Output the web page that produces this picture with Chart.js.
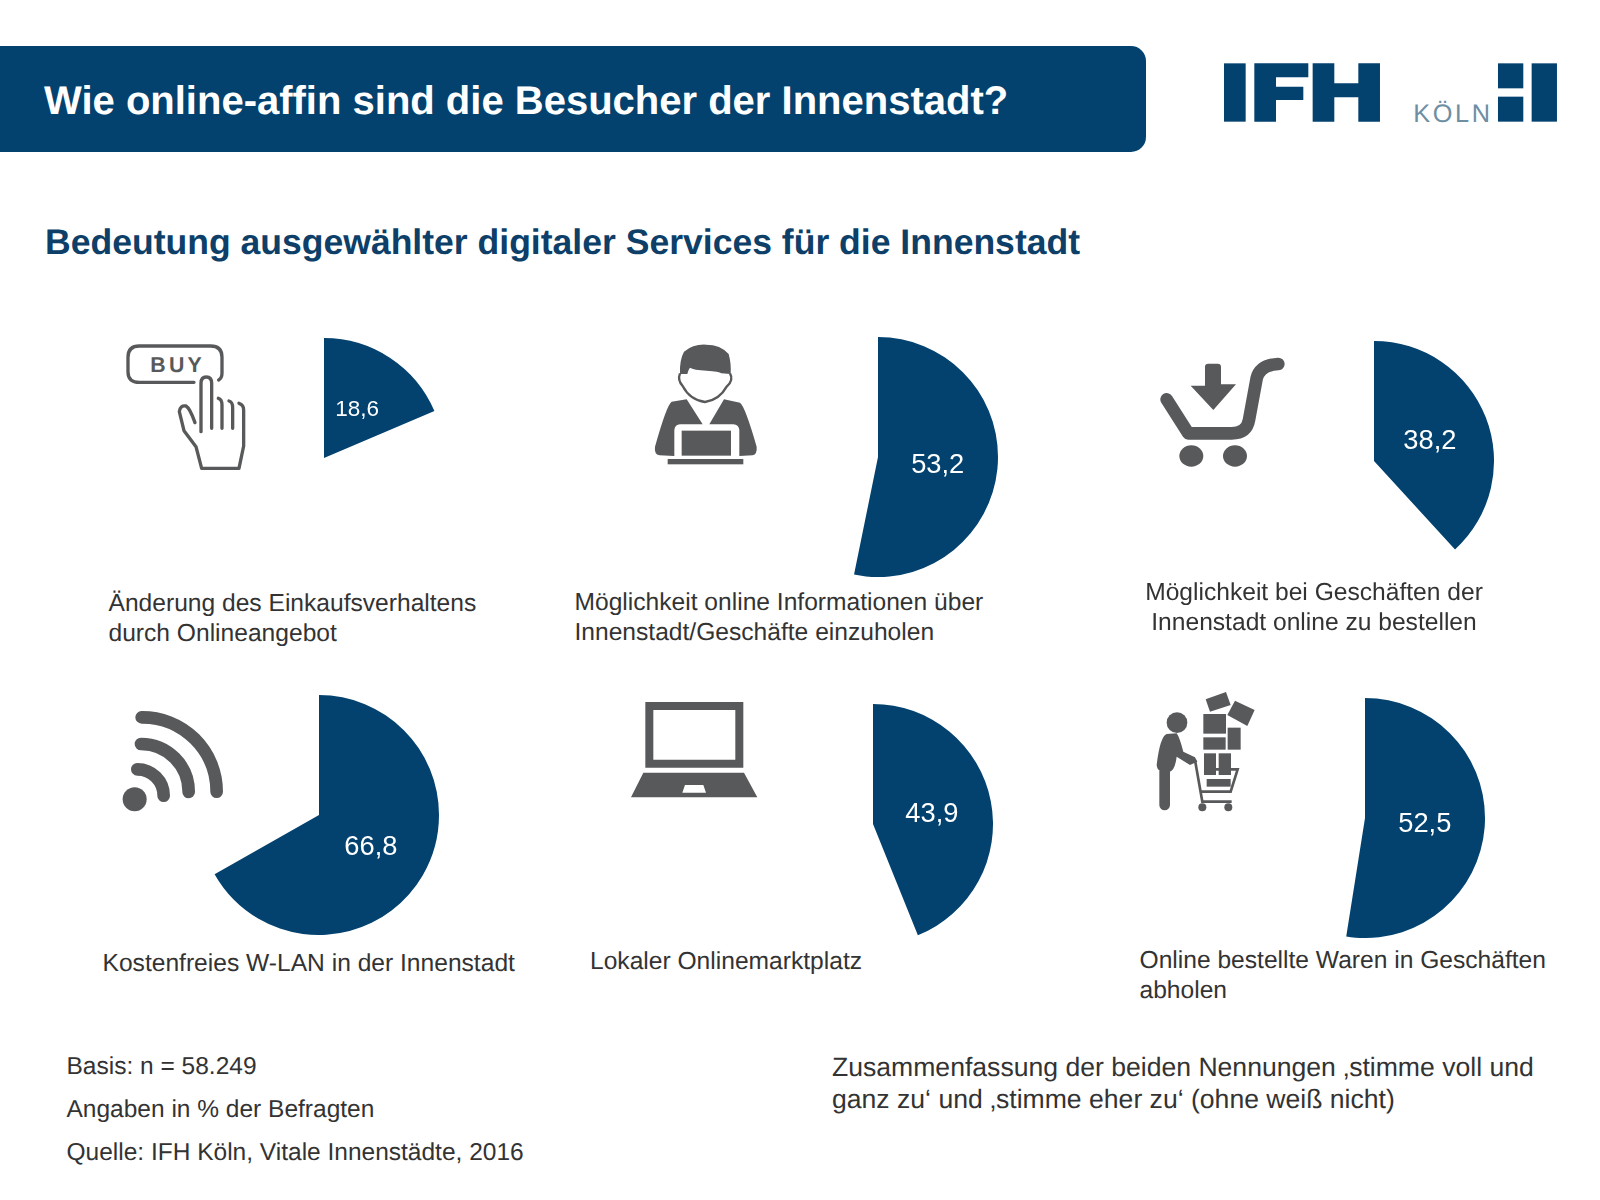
<!DOCTYPE html>
<html lang="de">
<head>
<meta charset="utf-8">
<title>Wie online-affin sind die Besucher der Innenstadt?</title>
<script src="https://cdn.jsdelivr.net/npm/chart.js@4"></script>
<style>
  html, body { margin: 0; padding: 0; background: #fff; }
  #page { position: relative; width: 1600px; height: 1200px; overflow: hidden; font-family: "Liberation Sans", Arial, sans-serif; color: #333; text-rendering: geometricPrecision; }
  #banner { position: absolute; left: 0; top: 46px; width: 1146px; height: 106px; background: #03426f; border-radius: 0 15px 15px 0; }
  #title { position: absolute; left: 44px; top: 77px; font-size: 40px; line-height: 48px; font-weight: bold; color: #fff; white-space: nowrap; }
  #subtitle { position: absolute; left: 45px; top: 218px; font-size: 35.55px; line-height: 48px; font-weight: bold; color: #0d3f69; white-space: nowrap; }
  #icons { position: absolute; left: 0; top: 0; }
  canvas { position: absolute; }
  .caption { position: absolute; font-size: 24.6px; line-height: 29.5px; white-space: nowrap; }
  .caption div { white-space: nowrap; }
  #cap0 { left: 108.5px; top: 589px; }
  #cap1 { left: 574.5px; top: 588px; }
  #cap2 { left: 1114px; width: 400px; top: 578px; text-align: center; }
  #cap3 { left: 102.5px; top: 949px; }
  #cap4 { left: 590px; top: 946.5px; }
  #cap5 { left: 1139.5px; top: 946px; }
  #basis { position: absolute; left: 66.5px; top: 1045px; font-size: 24.5px; line-height: 43px; white-space: nowrap; }
  #note { position: absolute; left: 832px; top: 1051px; font-size: 26.58px; line-height: 32px; white-space: nowrap; }
</style>
</head>
<body>
<div id="page">
  <div id="banner"></div>
  <div id="title">Wie online-affin sind die Besucher der Innenstadt?</div>
  <div id="subtitle">Bedeutung ausgewählter digitaler Services für die Innenstadt</div>

  <svg id="icons" width="1600" height="1200" viewBox="0 0 1600 1200">
    <!-- Logo -->
    <g transform="translate(1200 40) scale(0.3333)" fill="#03426f">
      <rect x="72" y="70" width="65" height="175"/>
      <path d="M163 70H325V112H228V140H310V180H228V245H163Z"/>
      <path d="M338 70H403V130H475V70H540V245H475V172H403V245H338Z"/>
      <rect x="894" y="70" width="76" height="75"/>
      <rect x="894" y="170" width="76" height="75"/>
      <rect x="995" y="70" width="76" height="175"/>
      <text x="640" y="245" font-size="76" textLength="230" fill="#6d8ea3" font-family="Liberation Sans">KÖLN</text>
    </g>
    <!-- BUY -->
    <g transform="translate(100 320) scale(0.3333)" fill="none" stroke="#58595b" stroke-width="10" stroke-linecap="round" stroke-linejoin="round">
      <path d="M282 187H118Q84 187 84 155V112Q84 78 118 78H332Q366 78 366 112V160Q366 175 356 180"/>
      <text x="228" y="156" font-size="64" font-weight="bold" text-anchor="middle" fill="#58595b" stroke="none" textLength="154" font-family="Liberation Sans">BUY</text>
      <path d="M303 335V190Q303 171 319 171Q335 171 335 190V325"/>
      <path d="M355 235Q366 238 366 255V325"/>
      <path d="M387 243Q398 246 398 263V325"/>
      <path d="M417 250Q431 254 431 270V378L417 445H305L288 380L252 332L238 275Q240 255 258 258Q270 265 285 308"/>
    </g>
    <!-- Person mit Laptop -->
    <g transform="translate(630 330) scale(0.3333)" fill="#58595b">
      <path d="M150 132Q148 90 162 65Q190 42 228 44Q272 44 296 72Q304 100 302 132L274 130Q268 124 230 122Q190 120 180 113Q174 120 172 132Z"/>
      <path d="M150 130Q142 150 158 168Q180 210 225 216Q268 210 290 170Q312 150 300 130" fill="none" stroke="#58595b" stroke-width="7"/>
      <path d="M170 208L125 215Q110 225 75 350Q72 372 88 376L133 378V300Q135 284 150 283H218Z"/>
      <path d="M282 208L330 218Q345 228 380 350Q382 372 368 376L328 378V300Q326 284 310 283H238Z"/>
      <rect x="155" y="302" width="148" height="75"/>
      <rect x="113" y="387" width="227" height="16"/>
    </g>
    <!-- Warenkorb -->
    <g transform="translate(1140 340) scale(0.3333)" fill="#58595b">
      <path d="M80 178L145 280H275Q320 280 327 240L350 115Q360 75 415 72" fill="none" stroke="#58595b" stroke-width="38" stroke-linecap="round" stroke-linejoin="round"/>
      <path d="M195 80Q195 71 205 71H233Q243 71 243 80V133H288L220 210L152 137H195Z"/>
      <ellipse cx="154" cy="348" rx="36" ry="32"/>
      <ellipse cx="285" cy="348" rx="36" ry="32"/>
    </g>
    <!-- WLAN -->
    <g transform="translate(100 700) scale(0.3333)" fill="none" stroke="#58595b" stroke-width="38" stroke-linecap="round">
      <circle cx="104" cy="298" r="36" fill="#58595b" stroke="none"/>
      <path d="M125 52A223 223 0 0 1 350 275"/>
      <path d="M123 132A143 143 0 0 1 266 276"/>
      <path d="M112 208A79 79 0 0 1 191 287"/>
    </g>
    <!-- Notebook -->
    <g transform="translate(620 690) scale(0.3333)" fill="#58595b">
      <path fill-rule="evenodd" d="M76 36H370V233H76ZM100 60V209H346V60Z"/>
      <path fill-rule="evenodd" d="M70 248H372L412 322H33ZM195 285L187 308H258L250 285Z"/>
    </g>
    <!-- Kunde mit Paketen -->
    <g transform="translate(1140 680) scale(0.3333)" fill="#58595b">
      <circle cx="111" cy="128" r="31"/>
      <path d="M80 162Q60 170 50 255Q52 270 58 270V375A16 16 0 0 0 90 375V275Q105 270 110 230L150 255L172 245L165 232L130 215Q118 170 110 160Z"/>
      <path d="M197 58L258 36L272 75L210 95Z"/>
      <path d="M262 105L285 62L344 90L322 138Z"/>
      <rect x="190" y="102" width="68" height="59"/>
      <rect x="263" y="143" width="39" height="66"/>
      <rect x="190" y="172" width="67" height="37"/>
      <rect x="192" y="220" width="36" height="65"/>
      <rect x="236" y="220" width="37" height="65"/>
      <rect x="200" y="297" width="72" height="23"/>
      <path d="M165 240L187 365H275M228 268H293L272 335H182" fill="none" stroke="#58595b" stroke-width="8"/>
      <circle cx="187" cy="382" r="12"/>
      <circle cx="265" cy="382" r="12"/>
    </g>
  </svg>

  <canvas id="pie0" width="240" height="240" style="left:203.5px;top:338px"></canvas>
  <canvas id="pie1" width="240" height="240" style="left:757.5px;top:337px"></canvas>
  <canvas id="pie2" width="240" height="240" style="left:1253.5px;top:341px"></canvas>
  <canvas id="pie3" width="240" height="240" style="left:198.5px;top:695px"></canvas>
  <canvas id="pie4" width="240" height="240" style="left:753px;top:703.5px"></canvas>
  <canvas id="pie5" width="240" height="240" style="left:1245px;top:698px"></canvas>

  <div class="caption" id="cap0"></div>
  <div class="caption" id="cap1"></div>
  <div class="caption" id="cap2"></div>
  <div class="caption" id="cap3"></div>
  <div class="caption" id="cap4"></div>
  <div class="caption" id="cap5"></div>

  <div id="basis">
    <div>Basis: n = 58.249</div>
    <div>Angaben in % der Befragten</div>
    <div>Quelle: IFH Köln, Vitale Innenstädte, 2016</div>
  </div>
  <div id="note">
    <div>Zusammenfassung der beiden Nennungen ‚stimme voll und</div>
    <div>ganz zu‘ und ‚stimme eher zu‘ (ohne weiß nicht)</div>
  </div>
</div>

<script>
// Daten
const kategorien = [
  ["Änderung des Einkaufsverhaltens", "durch Onlineangebot"],
  ["Möglichkeit online Informationen über", "Innenstadt/Geschäfte einzuholen"],
  ["Möglichkeit bei Geschäften der", "Innenstadt online zu bestellen"],
  ["Kostenfreies W-LAN in der Innenstadt"],
  ["Lokaler Onlinemarktplatz"],
  ["Online bestellte Waren in Geschäften", "abholen"]
];
const zustimmung = [18.6, 53.2, 38.2, 66.8, 43.9, 52.5];
const rest = [81.4, 46.8, 61.8, 33.2, 56.1, 47.5];
const wertSchrift = [22.5, 27.3, 27.3, 27.3, 27.3, 27.3];

// Wert mittig ins blaue Segment schreiben
const wertLabel = {
  id: "wertLabel",
  afterDatasetsDraw(chart, args, opts) {
    const arc = chart.getDatasetMeta(0).data[0];
    const p = arc.getCenterPoint();
    const ctx = chart.ctx;
    ctx.save();
    ctx.fillStyle = "#fff";
    ctx.font = opts.size + 'px "Liberation Sans"';
    ctx.textAlign = "center";
    ctx.textBaseline = "middle";
    ctx.fillText(chart.data.datasets[0].data[0].toFixed(1).replace(".", ","), p.x, p.y + 2);
    ctx.restore();
  }
};

zustimmung.forEach(function (wert, i) {
  const ctx = document.getElementById("pie" + i).getContext("2d");
  new Chart(ctx, {
    type: "pie",
    data: {
      labels: [kategorien[i].join(" "), "Rest"],
      datasets: [{
        data: [wert, rest[i]],
        backgroundColor: ["#03426f", "rgba(0,0,0,0)"],
        borderWidth: 0
      }]
    },
    options: {
      responsive: false,
      animation: false,
      layout: { padding: 0 },
      plugins: {
        legend: { display: false },
        tooltip: { enabled: false },
        wertLabel: { size: wertSchrift[i] }
      }
    },
    plugins: [wertLabel]
  });

  const cap = document.getElementById("cap" + i);
  kategorien[i].forEach(function (zeile) {
    const d = document.createElement("div");
    d.textContent = zeile;
    cap.appendChild(d);
  });
});
</script>
</body>
</html>
